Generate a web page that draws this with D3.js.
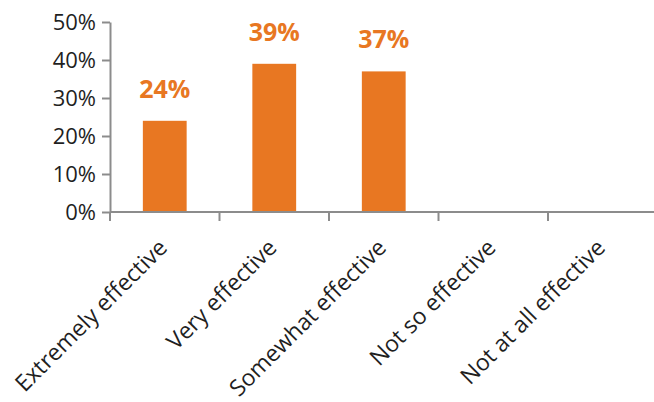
<!DOCTYPE html>
<html>
<head>
<meta charset="utf-8">
<script src="https://cdn.jsdelivr.net/npm/d3@7"></script>
<style>
  body { margin: 0; background: #fff; }
  svg { display: block; }
  text { font-family: "Open Sans", "Noto Sans", sans-serif; }
</style>
</head>
<body>
<svg id="chart" width="654" height="402"></svg>
<script>
// Survey responses: share of respondents per rating
const categories = ["Extremely effective", "Very effective", "Somewhat effective", "Not so effective", "Not at all effective"];
const shares = [24, 39, 37, null, null];
const yTicks = [0, 10, 20, 30, 40, 50];

const svg = d3.select("#chart");
const plotLeft = 110, plotRight = 657.5, plotTop = 22, plotBottom = 212;

const x = d3.scaleBand().domain(categories).range([plotLeft, plotRight]).paddingInner(0.6).paddingOuter(0.3);
const y = d3.scaleLinear().domain([0, 50]).range([plotBottom, plotTop]);

const axisColor = "#8c8c8c";
const textColor = "#1f1f1f";
const rows = categories.map((c, i) => ({ c, v: shares[i] })).filter(d => d.v != null);

// Bars
svg.append("g").selectAll("rect")
  .data(rows)
  .join("rect")
  .attr("x", d => x(d.c))
  .attr("width", x.bandwidth())
  .attr("y", d => y(d.v))
  .attr("height", d => y(0) - y(d.v))
  .attr("fill", "#e87722");

// Value labels
svg.append("g").selectAll("text")
  .data(rows)
  .join("text")
  .attr("x", d => x(d.c) + x.bandwidth() / 2)
  .attr("y", d => y(d.v) - 23)
  .attr("text-anchor", "middle")
  .attr("fill", "#e87722")
  .attr("font-weight", "bold")
  .attr("font-size", 25)
  .text(d => d.v + "%");

// Y axis
const yAxis = svg.append("g")
  .attr("transform", `translate(${plotLeft},0)`)
  .call(d3.axisLeft(y).tickValues(yTicks).tickSize(8).tickSizeOuter(0).tickPadding(6).tickFormat(d => d + "%"));
yAxis.select(".domain").attr("stroke", axisColor).attr("stroke-width", 2);
yAxis.selectAll(".tick line").attr("stroke", axisColor).attr("stroke-width", 2);
yAxis.selectAll(".tick text").attr("font-size", 22).attr("fill", textColor).attr("font-family", "\"Open Sans\", sans-serif");

// X axis with ticks at category boundaries
const xg = svg.append("g").attr("transform", `translate(0,${plotBottom})`);
xg.append("line").attr("x1", plotLeft).attr("x2", 654).attr("stroke", axisColor).attr("stroke-width", 2);
const bounds = categories.map(c => x(c) - x.step() * x.paddingInner() / 2).slice(1).concat([plotLeft]);
xg.selectAll(".b").data(bounds).join("line")
  .attr("x1", d => d).attr("x2", d => d).attr("y1", 0).attr("y2", 9)
  .attr("stroke", axisColor).attr("stroke-width", 2);

// Category labels, rotated
xg.selectAll(".cat").data(categories).join("text")
  .attr("transform", c => `translate(${x(c) + x.bandwidth() / 2 + 4},${37}) rotate(-45)`)
  .attr("text-anchor", "end")
  .attr("font-size", 23)
  .attr("fill", textColor)
  .text(c => c);
</script>
</body>
</html>
